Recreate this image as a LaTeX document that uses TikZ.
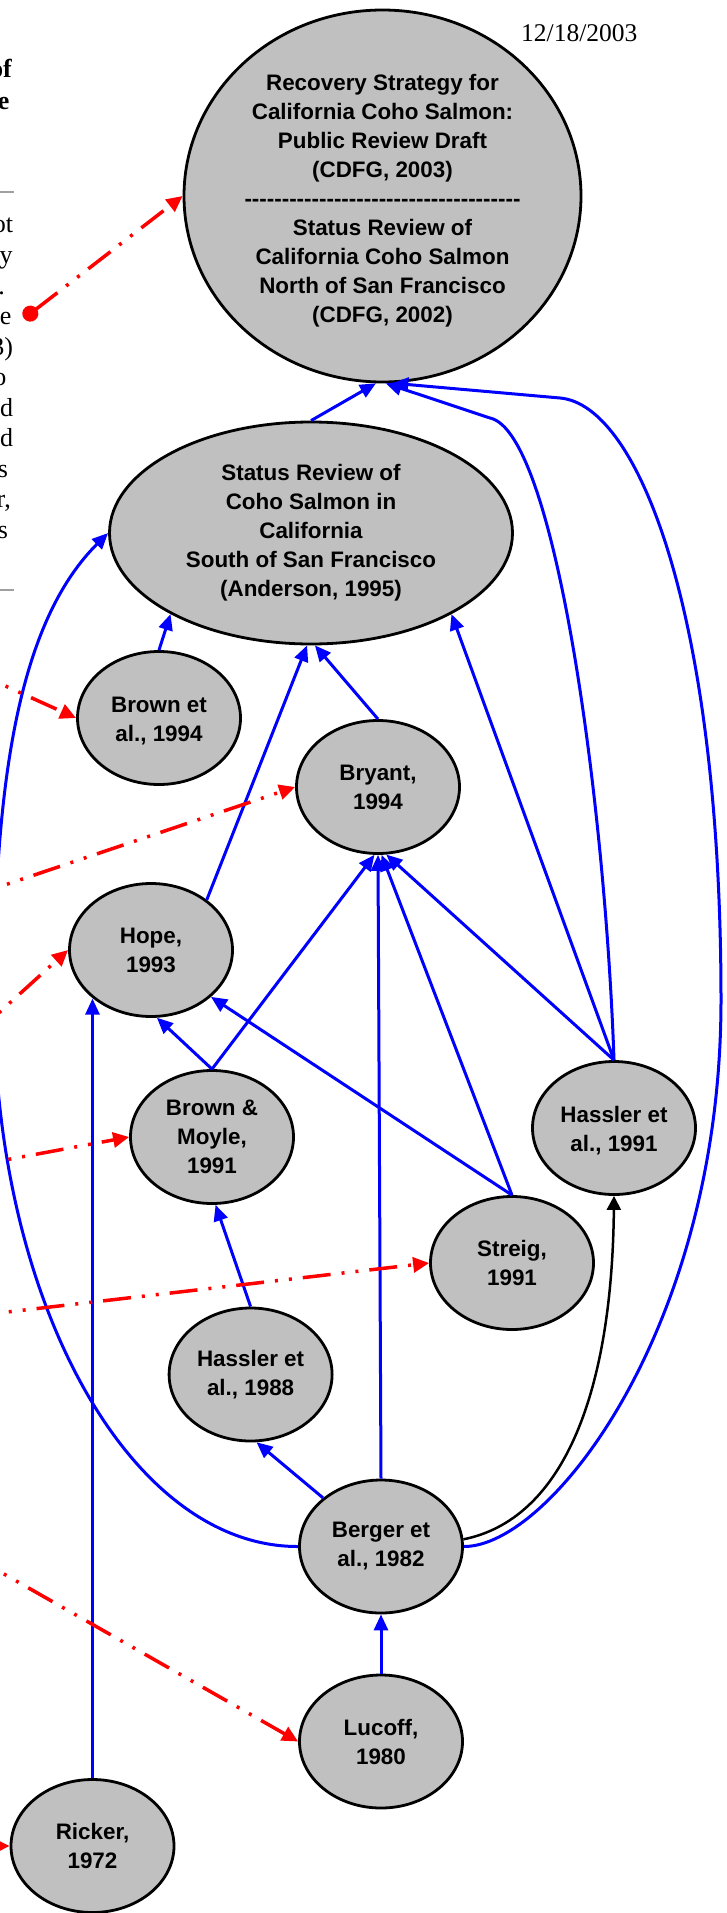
\documentclass[tikz,border=0pt]{standalone}
\usepackage{fontspec}
\setmainfont{Liberation Sans}
\newfontfamily\tnr{Liberation Serif}
\usetikzlibrary{arrows.meta,shapes.geometric}
\definecolor{nodegray}{HTML}{C0C0C0}
\definecolor{bl}{HTML}{0000FF}
\definecolor{rd}{HTML}{FF0000}
\definecolor{rulegray}{HTML}{A0A0A0}
\newcount\hcnt
\newcommand\dashline{\hcnt=0 \loop\ifnum\hcnt<37 -\kern0pt\advance\hcnt by 1 \repeat}
\begin{document}
\begin{tikzpicture}[x=1pt,y=-1pt,
  every node/.style={font=\bfseries\fontsize{22.4}{29}\selectfont},
  ref/.style={ellipse, draw=black, line width=2.8pt, fill=nodegray, inner sep=0pt,
    align=center, minimum width=163pt, minimum height=133pt},
  cite/.style={draw=bl, line width=3pt, -{Triangle[length=16pt,width=14pt]}},
  black cite/.style={draw=black, line width=2.5pt, -{Triangle[length=14pt,width=14pt]}},
  link/.style={draw=rd, line width=3.5pt,
    dash pattern=on 28pt off 11pt on 3pt off 11pt on 3pt off 11pt,
    -{Triangle[length=16pt,width=15pt]}},
  frag/.style={anchor=base east, inner sep=0pt, font=\tnr\fontsize{26}{30}\selectfont},
  fragb/.style={anchor=base east, inner sep=0pt, font=\tnr\bfseries\fontsize{26}{30}\selectfont},
]
\useasboundingbox (0,0) rectangle (727,1913);
\fill[white] (0,0) rectangle (727,1913);

% cropped page fragments on the left
\node[fragb] (fa) at (12,78) {of};
\node[fragb] (fb) at (9.5,110) {e};
\draw[rulegray, line width=2.5pt] (0,192) coordinate (ra) -- (14,192) coordinate (rb);
\node[frag] (f1) at (13.3,233) {ot};
\node[frag] (f2) at (12.7,263.5) {y};
\node[frag] (f3) at (5,294) {.};
\node[frag] (f4) at (11.7,324.5) {e};
\node[frag] (f5) at (13.3,355) {3)};
\node[frag] (f6) at (6.7,385.5) {o};
\node[frag] (f7) at (13.3,416) {d};
\node[frag] (f8) at (13.3,446.5) {d};
\node[frag] (f9) at (8.3,477) {s};
\node[frag] (f10) at (11,507.5) {r,};
\node[frag] (f11) at (8.3,538) {s};
\draw[rulegray, line width=2.5pt] (0,590) coordinate (rc) -- (14,590) coordinate (rd);

% date
\node[anchor=base west, inner sep=0pt, font=\tnr\fontsize{25.5}{30}\selectfont] (date) at (521,41.7) {12/18/2003};

% nodes
\node[ref, minimum width=397pt, minimum height=372pt] (top) at (382.5,196)
  {\rule{0pt}{26pt}Recovery Strategy for\\California Coho Salmon:\\Public Review Draft\\(CDFG, 2003)\\\dashline\\Status Review of\\California Coho Salmon\\North of San Francisco\\(CDFG, 2002)};
\node[ref, minimum width=403pt, minimum height=222pt] (anderson) at (311,533)
  {Status Review of\\Coho Salmon in\\California\\South of San Francisco\\(Anderson, 1995)};
\node[ref] (brown94) at (159,718) {\rule{0pt}{22pt}Brown et\\al., 1994};
\node[ref] (bryant) at (378,787) {Bryant,\\1994};
\node[ref] (hope) at (151,950) {Hope,\\1993};
\node[ref] (bm91) at (212,1137) {Brown \&\\Moyle,\\1991};
\node[ref] (hassler91) at (614,1128) {\rule{0pt}{22pt}Hassler et\\al., 1991};
\node[ref] (streig) at (512,1263) {Streig,\\1991};
\node[ref] (hassler88) at (250.6,1374.5) {Hassler et\\al., 1988};
\node[ref] (berger) at (381,1546.5) {Berger et\\al., 1982};
\node[ref] (lucoff) at (381,1741.5) {Lucoff,\\1980};
\node[ref] (ricker) at (92.5,1846) {Ricker,\\1972};

% blue citation arrows
\draw[cite] (anderson.north) -- (top.268);
\draw[cite] (hassler91.north) .. controls (605,800) and (555,432) .. (490,418) -- (top.271);
\draw[cite] (berger.east) .. controls (550,1547) and (721,1328) .. (721,1000)
  .. controls (721,620) and (640,405) .. (560,398) -- (top.273);
\draw[cite] (berger.west) .. controls (130,1547) and (-6,1302) .. (-6,1000)
  .. controls (-6,750) and (28,613) .. (anderson.west);
\draw[cite] (brown94.north) -- (anderson.210);
\draw[cite] (hope.42) -- (anderson.268);
\draw[cite] (bryant.north) -- (anderson.272);
\draw[cite] (hassler91.north) -- (anderson.330);
\draw[cite] (bm91.north) -- (bryant.267);
\draw[cite] (berger.north) -- (bryant.270);
\draw[cite] (streig.north) -- (bryant.273);
\draw[cite] (hassler91.north) -- (bryant.277);
\draw[cite] (bm91.north) -- (hope.275);
\draw[cite] (streig.north) -- (hope.322);
\draw[cite] (ricker.north) -- (ricker.north |- hope.220);
\draw[cite] (hassler88.north) -- (bm91.273);
\draw[cite] (berger.140) -- (hassler88.275);
\draw[cite] (lucoff.north) -- (berger.south);
\draw[black cite] (berger.5) .. controls (560,1520) and (612,1400) .. (hassler91.south);

% red links from the cropped page text
\coordinate (s1) at (24,318.5);
\coordinate (s2) at (-30,670);
\coordinate (s3) at (-30,896.7);
\coordinate (s4) at (-30,1039);
\coordinate (s5) at (-30,1166.5);
\coordinate (s6) at (-30,1316.3);
\coordinate (s7) at (-30,1554.6);
\coordinate (s8) at (-30,1846);
\draw[link, {Circle[length=16pt]}-{Triangle[length=16pt,width=15pt]}] (s1) -- (top.west);
\draw[link] (s2) -- (brown94.west);
\draw[link] (s3) -- (bryant.west);
\draw[link] (s4) -- (hope.west);
\draw[link] (s5) -- (bm91.west);
\draw[link] (s6) -- (streig.west);
\draw[link] (s7) -- (lucoff.west);
\draw[link] (s8) -- (ricker.west);
\end{tikzpicture}
\end{document}
